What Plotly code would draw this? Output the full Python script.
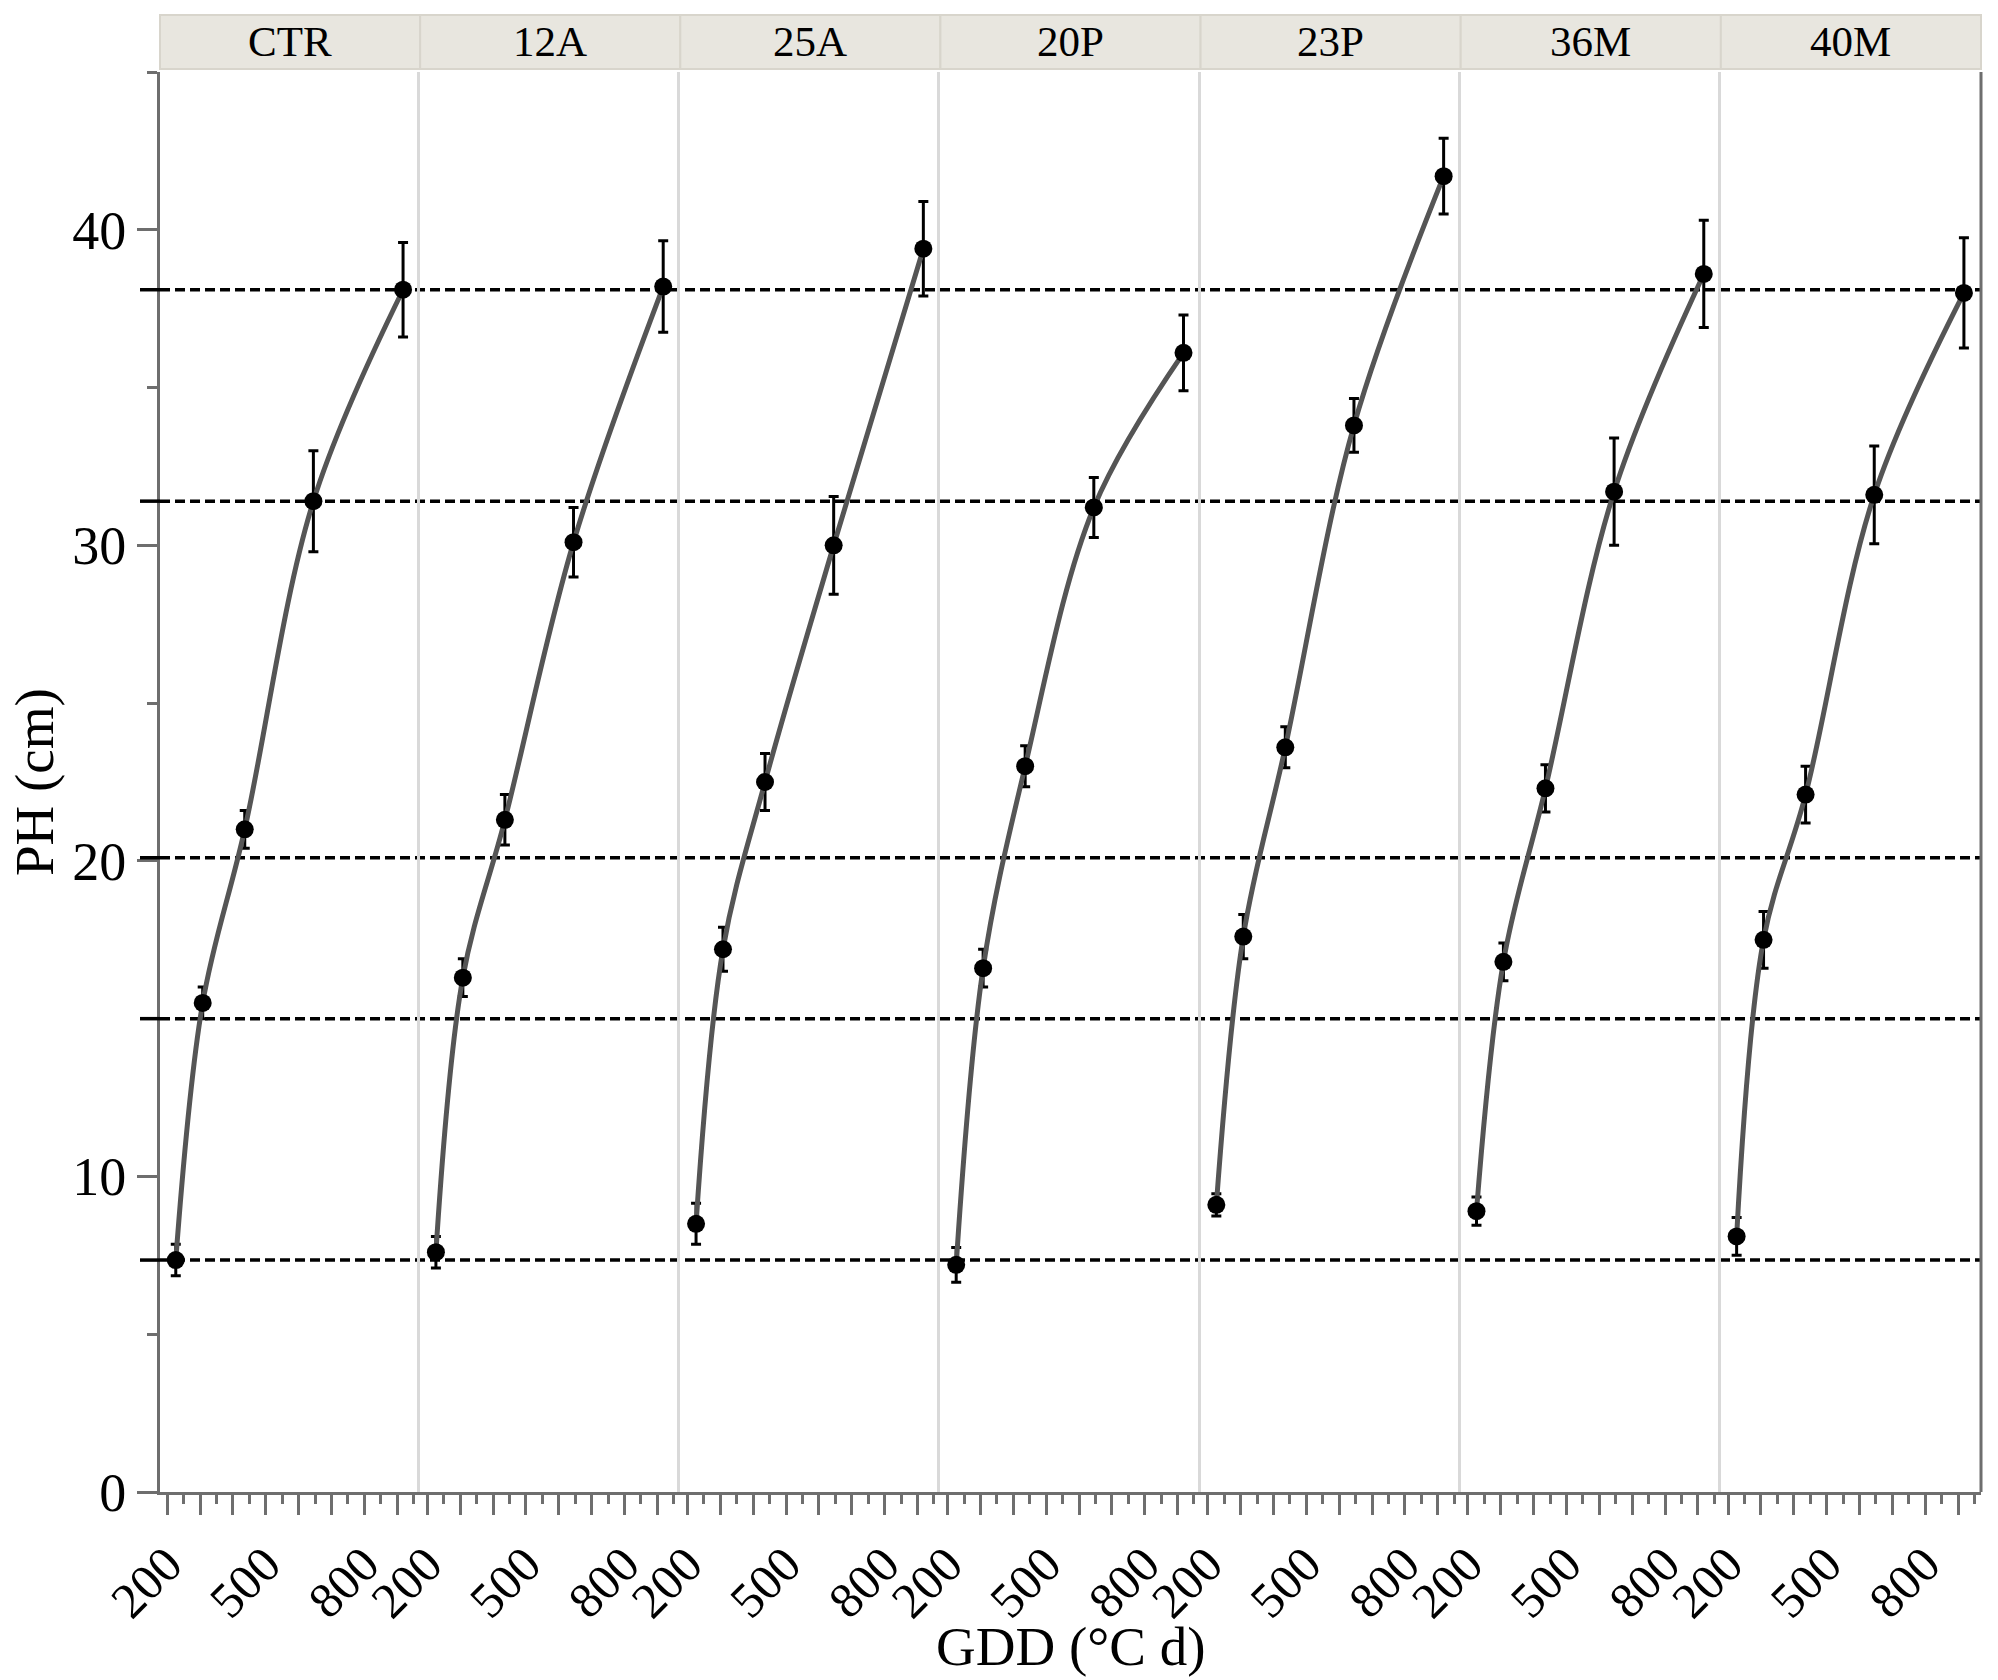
import plotly.graph_objects as go
from plotly.subplots import make_subplots

TREATMENTS = ["CTR", "12A", "25A", "20P", "23P", "36M", "40M"]
GDD = [226, 308, 436, 645, 918]

PH_CTR = [7.35, 15.5, 21.0, 31.4, 38.1]
PH_12A = [7.6, 16.3, 21.3, 30.1, 38.2]
PH_25A = [8.5, 17.2, 22.5, 30.0, 39.4]
PH_20P = [7.2, 16.6, 23.0, 31.2, 36.1]
PH_23P = [9.1, 17.6, 23.6, 33.8, 41.7]
PH_36M = [8.9, 16.8, 22.3, 31.7, 38.6]
PH_40M = [8.1, 17.5, 22.1, 31.6, 38.0]

SE_CTR = [0.5, 0.5, 0.6, 1.6, 1.5]
SE_12A = [0.5, 0.6, 0.8, 1.1, 1.45]
SE_25A = [0.65, 0.7, 0.9, 1.55, 1.5]
SE_20P = [0.55, 0.6, 0.65, 0.95, 1.2]
SE_23P = [0.35, 0.7, 0.65, 0.85, 1.2]
SE_36M = [0.45, 0.6, 0.75, 1.7, 1.7]
SE_40M = [0.6, 0.9, 0.9, 1.55, 1.75]

REF_LEVELS = [38.1, 31.4, 20.1, 15.0, 7.35]

X_TICKS = [200, 300, 400, 500, 600, 700, 800, 900]
X_LABELS = ["200", "", "", "500", "", "", "800", ""]
Y_TICKS = [0, 10, 20, 30, 40]

PH = [PH_CTR, PH_12A, PH_25A, PH_20P, PH_23P, PH_36M, PH_40M]
SE = [SE_CTR, SE_12A, SE_25A, SE_20P, SE_23P, SE_36M, SE_40M]

FONT = "Liberation Serif"
AXIS_GREY = "#6e6e6e"
W, H = 1998, 1680
M_L, M_R, M_T, M_B = 160, 17, 72, 188
PLOT_W = W - M_L - M_R
PLOT_H = H - M_T - M_B

n = len(TREATMENTS)
fig = make_subplots(rows=1, cols=n, shared_yaxes=True, horizontal_spacing=0)

for i, (name, ph, se) in enumerate(zip(TREATMENTS, PH, SE), start=1):
    fig.add_trace(
        go.Scatter(
            x=GDD,
            y=ph,
            mode="lines+markers",
            name=name,
            line=dict(color="#555555", width=5, shape="spline", smoothing=1.0),
            marker=dict(color="black", size=18),
            error_y=dict(type="data", array=se, visible=True, color="black", thickness=3, width=5),
            showlegend=False,
        ),
        row=1,
        col=i,
    )
    fig.update_xaxes(
        range=[178, 970],
        tickmode="array",
        tickvals=X_TICKS,
        ticktext=X_LABELS,
        tickangle=-45,
        ticks="outside",
        ticklen=20,
        tickwidth=3,
        tickcolor=AXIS_GREY,
        minor=dict(tickmode="linear", tick0=0, dtick=50, ticks="outside", ticklen=9, tickwidth=3, tickcolor=AXIS_GREY),
        showline=True,
        linecolor=AXIS_GREY,
        linewidth=3,
        showgrid=False,
        zeroline=False,
        tickfont=dict(family=FONT, size=50, color="black"),
        row=1,
        col=i,
    )
    if i == 1:
        fig.update_yaxes(
            range=[0, 45],
            tickmode="array",
            tickvals=Y_TICKS,
            ticks="outside",
            ticklen=20,
            tickwidth=3,
            tickcolor=AXIS_GREY,
            minor=dict(tickmode="linear", tick0=5, dtick=10, ticks="outside", ticklen=10, tickwidth=3, tickcolor=AXIS_GREY),
            showline=True,
            linecolor=AXIS_GREY,
            linewidth=3,
            showgrid=False,
            zeroline=False,
            tickfont=dict(family=FONT, size=54, color="black"),
            row=1,
            col=i,
        )
    else:
        fig.update_yaxes(
            showline=True,
            linecolor="#d9d9d9",
            linewidth=3,
            ticks="",
            showticklabels=False,
            showgrid=False,
            zeroline=False,
            row=1,
            col=i,
        )

# horizontal reference levels
for level in REF_LEVELS:
    fig.add_shape(
        type="line", xref="paper", yref="y", x0=0, x1=1, y0=level, y1=level,
        line=dict(color="black", width=3.5, dash="10px,5px"), layer="below",
    )
    fig.add_shape(
        type="line", xref="paper", yref="y", x0=-20 / PLOT_W, x1=0, y0=level, y1=level,
        line=dict(color="black", width=3.5),
    )

# right border
fig.add_shape(type="line", xref="paper", yref="paper", x0=1, x1=1, y0=0, y1=1,
              line=dict(color=AXIS_GREY, width=3))

# facet strips
strip_y0 = 1 + 3 / PLOT_H
strip_y1 = 1 + 57 / PLOT_H
for i, name in enumerate(TREATMENTS, start=1):
    key = "xaxis" if i == 1 else f"xaxis{i}"
    d0, d1 = fig.layout[key].domain
    fig.add_shape(
        type="rect", xref="paper", yref="paper", x0=d0, x1=d1, y0=strip_y0, y1=strip_y1,
        fillcolor="#e8e6df", line=dict(color="#d8d5cc", width=2),
    )
    fig.add_annotation(
        x=(d0 + d1) / 2, y=(strip_y0 + strip_y1) / 2, xref="paper", yref="paper",
        text=name, showarrow=False, xanchor="center", yanchor="middle",
        font=dict(family=FONT, size=43, color="black"),
    )

fig.add_annotation(
    x=0.5, y=0, xref="paper", yref="paper", text="GDD (°C d)", showarrow=False,
    xanchor="center", yanchor="middle", yshift=-154,
    font=dict(family=FONT, size=55, color="black"),
)
fig.add_annotation(
    x=0, y=0.5, xref="paper", yref="paper", text="PH (cm)", showarrow=False,
    textangle=-90, xanchor="center", yanchor="middle", xshift=-126,
    font=dict(family=FONT, size=55, color="black"),
)

fig.update_layout(
    width=W,
    height=H,
    margin=dict(l=M_L, r=M_R, t=M_T, b=M_B),
    paper_bgcolor="white",
    plot_bgcolor="white",
    font=dict(family=FONT, color="black"),
)

# drop the browser's default 8px body margin so the figure sits at the page corner
fig.write_html(
    "out.html",
    config={"displayModeBar": False},
    post_script="document.body.style.margin = '0';",
)
